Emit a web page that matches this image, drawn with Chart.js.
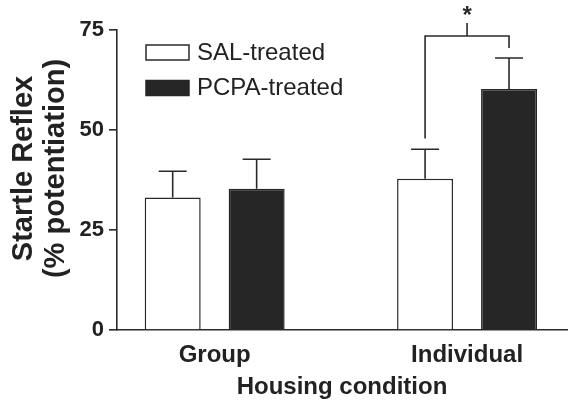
<!DOCTYPE html>
<html><head><meta charset="utf-8">
<script src="https://cdn.jsdelivr.net/npm/chart.js@4/dist/chart.umd.min.js"></script>
<style>html,body{margin:0;padding:0;background:#fff}#wrap{width:582px;height:403px;position:relative}</style>
</head><body><div id="wrap"><canvas id="c" width="582" height="403"></canvas></div>
<script>
// ---- data ----
const housingConditions = ['Group', 'Individual'];
const seriesNames = ['SAL-treated', 'PCPA-treated'];
const salMeans = [33.1, 37.8];
const pcpaMeans = [35.3, 60.25];
const salErrors = [6.6, 7.4];
const pcpaErrors = [7.4, 7.75];
const yTicks = [0, 25, 50, 75];
const yTitle = ['Startle Reflex', '(% potentiation)'];
const xTitle = 'Housing condition';
const sigMarker = '*';
// significance bracket on "Individual": left leg bottom, bracket top, right leg bottom, stem top, marker (data units)
const sigLevels = [47.9, 73.5, 70.5, 76.75, 79.6];

// ---- styles ----
const FONT = '"Liberation Sans", Arial, Helvetica, sans-serif';
const INK = '#2a2a2a';
const DARK = '#262626';

const errorBarPlugin = {
  id: 'errorBars',
  afterDatasetsDraw(chart) {
    const ctx = chart.ctx, ys = chart.scales.y;
    ctx.save();
    ctx.strokeStyle = INK; ctx.lineWidth = 1.6;
    chart.data.datasets.forEach((ds, di) => {
      const meta = chart.getDatasetMeta(di);
      meta.data.forEach((bar, i) => {
        const v = ds.data[i].y, e = ds.errors[i];
        const yTop = ys.getPixelForValue(v + e);
        const half = bar.width / 4;
        ctx.beginPath();
        ctx.moveTo(bar.x, bar.y); ctx.lineTo(bar.x, yTop);
        ctx.moveTo(bar.x - half, yTop); ctx.lineTo(bar.x + half, yTop);
        ctx.stroke();
      });
    });
    ctx.restore();
  }
};

const bracketPlugin = {
  id: 'sigBracket',
  afterDatasetsDraw(chart) {
    const ctx = chart.ctx, ys = chart.scales.y;
    const a = chart.getDatasetMeta(0).data[1], b = chart.getDatasetMeta(1).data[1];
    const yl = ys.getPixelForValue(sigLevels[0]), yt = ys.getPixelForValue(sigLevels[1]);
    const yr = ys.getPixelForValue(sigLevels[2]), ys2 = ys.getPixelForValue(sigLevels[3]);
    const mid = (a.x + b.x) / 2;
    ctx.save();
    ctx.strokeStyle = INK; ctx.lineWidth = 1.6;
    ctx.beginPath();
    ctx.moveTo(a.x, yl); ctx.lineTo(a.x, yt); ctx.lineTo(b.x, yt); ctx.lineTo(b.x, yr);
    ctx.moveTo(mid, yt); ctx.lineTo(mid, ys2);
    ctx.stroke();
    ctx.fillStyle = INK;
    ctx.font = 'bold 24px ' + FONT;
    ctx.textAlign = 'center'; ctx.textBaseline = 'middle';
    ctx.fillText(sigMarker, mid, ys.getPixelForValue(sigLevels[4]) + 5);
    ctx.restore();
  }
};

const legendPlugin = {
  id: 'boxLegend',
  afterDraw(chart) {
    const ctx = chart.ctx, ca = chart.chartArea;
    ctx.save();
    chart.data.datasets.forEach((ds, i) => {
      const x = ca.left + 29, y = ca.top + 15 + i * 35.5;
      ctx.fillStyle = ds.backgroundColor;
      ctx.fillRect(x, y, 43, 15);
      ctx.strokeStyle = ds.borderColor; ctx.lineWidth = 1.5;
      ctx.strokeRect(x, y, 43, 15);
      ctx.fillStyle = '#222';
      ctx.font = '24px ' + FONT;
      ctx.textAlign = 'left'; ctx.textBaseline = 'middle';
      ctx.fillText(ds.label, x + 51, y + 8);
    });
    ctx.restore();
  }
};

// y-axis title, two rotated lines, centred slightly above the plot centre as in the source figure
const yTitlePlugin = {
  id: 'yTitle',
  afterDraw(chart) {
    const ctx = chart.ctx, ca = chart.chartArea;
    const cy = (ca.top + ca.bottom) / 2 - 11.5;
    ctx.save();
    ctx.fillStyle = '#222';
    ctx.font = 'bold 29px ' + FONT;
    ctx.textAlign = 'center'; ctx.textBaseline = 'alphabetic';
    yTitle.forEach((line, i) => {
      ctx.save();
      ctx.translate(31.5 + i * 32.5, cy);
      ctx.rotate(-Math.PI / 2);
      ctx.fillText(line, 0, 0);
      ctx.restore();
    });
    ctx.restore();
  }
};

const toPoints = arr => arr.map((v, i) => ({ x: i, y: v }));

new Chart(document.getElementById('c'), {
  type: 'bar',
  data: {
    datasets: [
      { label: seriesNames[0], data: toPoints(salMeans), errors: salErrors,
        backgroundColor: '#ffffff', borderColor: INK, borderWidth: 1.5 },
      { label: seriesNames[1], data: toPoints(pcpaMeans), errors: pcpaErrors,
        backgroundColor: DARK, borderColor: DARK, borderWidth: 1.5 }
    ]
  },
  options: {
    responsive: false, animation: false, devicePixelRatio: 1,
    layout: { padding: { top: 30, right: 15, left: 0, bottom: 1 } },
    datasets: { bar: { categoryPercentage: 0.6653, barPercentage: 0.6667 } },
    plugins: { legend: { display: false }, tooltip: { enabled: false } },
    scales: {
      x: {
        type: 'linear', min: -0.387, max: 1.396, offset: false, bounds: 'ticks',
        afterBuildTicks: s => { s.ticks = housingConditions.map((_, i) => ({ value: i })); },
        afterDataLimits: s => { s.min = -0.387; s.max = 1.396; },
        afterFit: s => { s.height = 72; },
        ticks: { callback: v => housingConditions[v], padding: 10.5, color: '#222',
                 font: { family: FONT, size: 24, weight: 'bold' }, maxRotation: 0, autoSkip: false },
        grid: { display: false, drawTicks: false },
        border: { display: true, color: INK, width: 1.6 },
        title: { display: true, text: xTitle, color: '#222', padding: { top: 0, bottom: 0 },
                 font: { family: FONT, size: 24, weight: 'bold', lineHeight: 1.2 } }
      },
      y: {
        min: 0, max: 75,
        afterBuildTicks: s => { s.ticks = yTicks.map(v => ({ value: v })); },
        afterFit: s => { s.width = 117; },
        ticks: { padding: 5, color: '#222', font: { family: FONT, size: 22, weight: 'bold' } },
        grid: { drawOnChartArea: false, drawTicks: true, tickLength: 8, color: INK, lineWidth: 1.6 },
        border: { display: true, color: INK, width: 1.6 },
        title: { display: false }
      }
    }
  },
  plugins: [errorBarPlugin, bracketPlugin, legendPlugin, yTitlePlugin]
});
</script></body></html>
